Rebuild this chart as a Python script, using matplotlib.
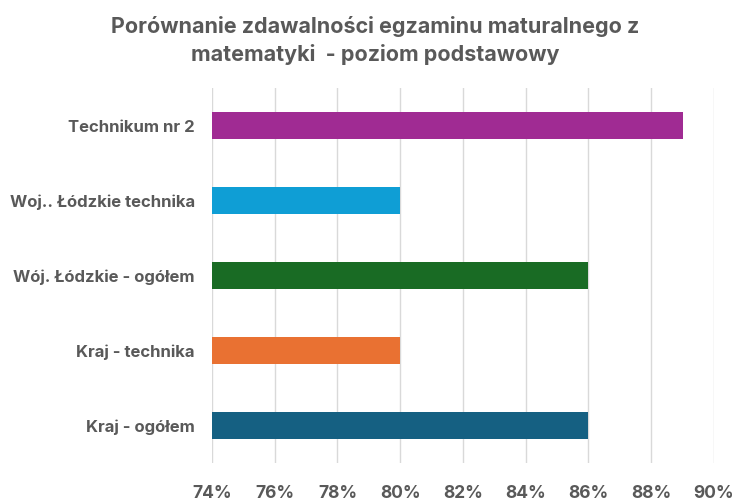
import matplotlib
matplotlib.use("Agg")
import matplotlib.pyplot as plt
from matplotlib.ticker import FuncFormatter, MultipleLocator

categories = ["Kraj - ogółem", "Kraj - technika", "Wój. Łódzkie - ogółem",
              "Woj.. Łódzkie technika", "Technikum nr 2"]
values = [86, 80, 86, 80, 89]
colors = ["#156082", "#E97132", "#196B24", "#0F9ED5", "#A02B93"]
title = "Porównanie zdawalności egzaminu maturalnego z\nmatematyki  - poziom podstawowy"

plt.rcParams['font.family'] = ['Inter', 'DejaVu Sans']
gray = "#595959"

fig = plt.figure(figsize=(7.51, 5.04), dpi=100)
ax = fig.add_axes([0.2823, 0.0813, 0.6684, 0.7441])
y = list(range(len(categories)))
ax.barh(y, [v - 74 for v in values], left=74, height=0.35, color=colors, zorder=3)
ax.set_xlim(74, 90)
ax.set_ylim(-0.5, len(categories) - 0.5)
ax.set_yticks(y)
ax.set_yticklabels(categories)
ax.xaxis.set_major_locator(MultipleLocator(2))
ax.xaxis.set_major_formatter(FuncFormatter(lambda v, p: f"{v:.0f}%"))
ax.grid(axis='x', color="#D9D9D9", linewidth=1, zorder=0)
for s in ax.spines.values():
    s.set_visible(False)
ax.tick_params(axis='both', length=0, colors=gray)
ax.tick_params(axis='y', pad=12.5, labelsize=12)
ax.tick_params(axis='x', pad=16, labelsize=12.5)
for lab in ax.get_xticklabels() + ax.get_yticklabels():
    lab.set_fontweight('bold')
    lab.set_color(gray)
fig.text(0.5, 0.92, title, ha='center', va='center', fontsize=15.5, fontweight='bold',
         color=gray, linespacing=1.4)
fig.savefig("out.png", dpi=100, facecolor='white')
